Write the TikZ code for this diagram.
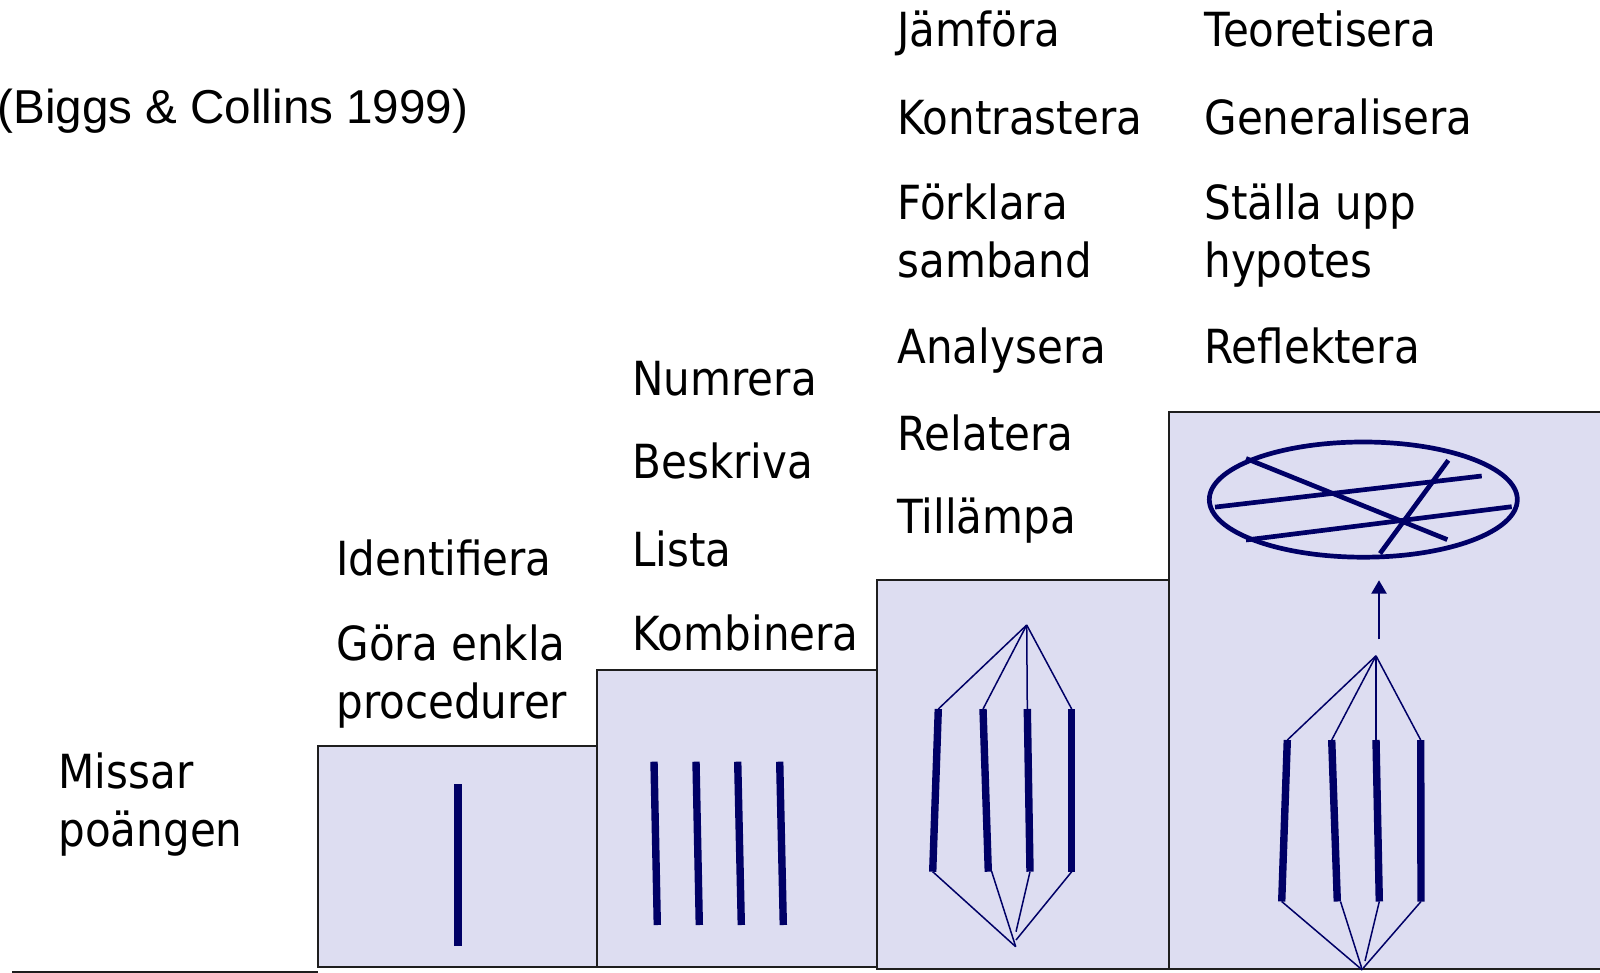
\documentclass[tikz,border=0pt]{standalone}
\usepackage{fontspec}
\setmainfont{DejaVu Sans}
\newfontfamily\tah[FakeStretch=0.895]{DejaVu Sans}
\newfontfamily\arial{Liberation Sans}
\usetikzlibrary{arrows.meta}
\definecolor{boxfill}{RGB}{221,221,241}
\definecolor{navyd}{RGB}{0,0,102}
\definecolor{edgec}{RGB}{30,30,30}
\begin{document}
\begin{tikzpicture}[x=0.5pt,y=-0.5pt,
  lvl/.style={fill=boxfill,draw=edgec,line width=1pt},
  bar/.style={draw=navyd,line width=3.7pt},
  link/.style={draw=navyd,line width=0.75pt},
  heavy/.style={draw=navyd,line width=2.35pt},
  txt/.style={anchor=base west,inner sep=0pt,font=\tah\fontsize{23.5}{28}\selectfont}]
\useasboundingbox (0,0) rectangle (1600,973);

% baseline
\coordinate (g0) at (12,971.7);
\coordinate (g1) at (318,971.7);
\draw[draw=edgec,line width=1pt] (g0) -- (g1);

% level boxes
\draw[lvl] (1169,412) rectangle (1606,969.3);
\draw[lvl] (876.7,580) rectangle (1169,969.3);
\draw[lvl] (597,670) rectangle (876.7,967.3);
\draw[lvl] (318,746) rectangle (597,966.7);

% box 1: one bar
\coordinate (u1) at (458,784.3);
\coordinate (u2) at (458,945.7);
\draw[bar,line width=4pt] (u1) -- (u2);

% box 2: four bars
\foreach \i/\xa/\xb in {1/654/657.3,2/696/699.3,3/737.7/741.3,4/779.7/783.3}{
  \coordinate (m\i t) at (\xa,761.7);
  \coordinate (m\i b) at (\xb,925);
  \draw[bar] (m\i t) -- (m\i b);
}

% box 3: relational structure
\coordinate (T3) at (1026.7,625);
\coordinate (B3) at (1015.7,946.7);
\foreach \i/\xa/\xb in {1/938.3/932.7,2/983/988.3,3/1027.3/1030,4/1071.7/1071.7}{
  \coordinate (r\i t) at (\xa,709);
  \coordinate (r\i b) at (\xb,871.7);
  \draw[bar] (r\i t) -- (r\i b);
  \draw[link] (T3) -- (r\i t);
}
\coordinate (r2c) at (991.5,871);
\coordinate (r3e) at (1016,931.7);
\coordinate (r4e) at (1016,940);
\draw[link] (r1b) -- (B3);
\draw[link] (r2c) -- (B3);
\draw[link] (r3b) -- (r3e);
\draw[link] (r4b) -- (r4e);

% box 4: extended abstract
\coordinate (T4) at (1376,655.8);
\coordinate (B4) at (1362.3,970);
\foreach \i/\xa/\xb in {1/1287.3/1281.7,2/1331.7/1337.3,3/1376/1379.3,4/1420.7/1421}{
  \coordinate (e\i t) at (\xa,740);
  \coordinate (e\i b) at (\xb,901.5);
  \draw[bar] (e\i t) -- (e\i b);
  \draw[link] (T4) -- (e\i t);
}
\coordinate (e2c) at (1340.5,901.5);
\coordinate (e3e) at (1365,961);
\coordinate (e4e) at (1363.3,968);
\draw[link] (e1b) -- (B4);
\draw[link] (e2c) -- (B4);
\draw[link] (e3b) -- (e3e);
\draw[link] (e4b) -- (e4e);

% arrow
\coordinate (a0) at (1379,639.4);
\coordinate (a1) at (1379,580.2);
\draw[draw=navyd,line width=1.3pt,-{Triangle[length=6.75pt,width=7.5pt]}] (a0) -- (a1);

% ellipse with lines
\coordinate (E) at (1363.3,499.6);
\draw[heavy] (E) ellipse [x radius=154, y radius=57.6];
\draw[heavy] (1215,507.1) -- (1481.7,476);
\draw[heavy] (1246,540) -- (1511.7,506.7);
\draw[heavy] (1246,458.5) -- (1447.3,539.6);
\draw[heavy] (1380,553.5) -- (1448.3,460.3);

% texts
\node[anchor=base west,inner sep=0pt,font=\arial\fontsize{23.8}{28}\selectfont] (src) at (-3,123.5) {(Biggs \& Collins 1999)};

\node[txt] (t31) at (897,46.7) {Jämföra};
\node[txt] (t32) at (897,134.3) {Kontrastera};
\node[txt] (t33) at (897,220) {Förklara};
\node[txt] (t33b) at (897,277.3) {samband};
\node[txt] (t34) at (897,363.3) {Analysera};
\node[txt] (t35) at (897,450) {Relatera};
\node[txt] (t36) at (897,533) {Tillämpa};

\node[txt] (t41) at (1204,46.7) {Teoretisera};
\node[txt] (t42) at (1204,134.3) {Generalisera};
\node[txt] (t43) at (1204,220) {Ställa upp};
\node[txt] (t43b) at (1204,277.3) {hypotes};
\node[txt] (t44) at (1204,363.3) {Reflektera};

\node[txt] (t21) at (632,395) {Numrera};
\node[txt] (t22) at (632,478) {Beskriva};
\node[txt] (t23) at (632,566.7) {Lista};
\node[txt] (t24) at (632,650) {Kombinera};

\node[txt] (t11) at (336,575) {Identifiera};
\node[txt] (t12) at (336,660) {Göra enkla};
\node[txt] (t12b) at (336,718) {procedurer};

\node[txt] (t01) at (58,788.3) {Missar};
\node[txt] (t01b) at (58,846.7) {poängen};
\end{tikzpicture}
\end{document}
